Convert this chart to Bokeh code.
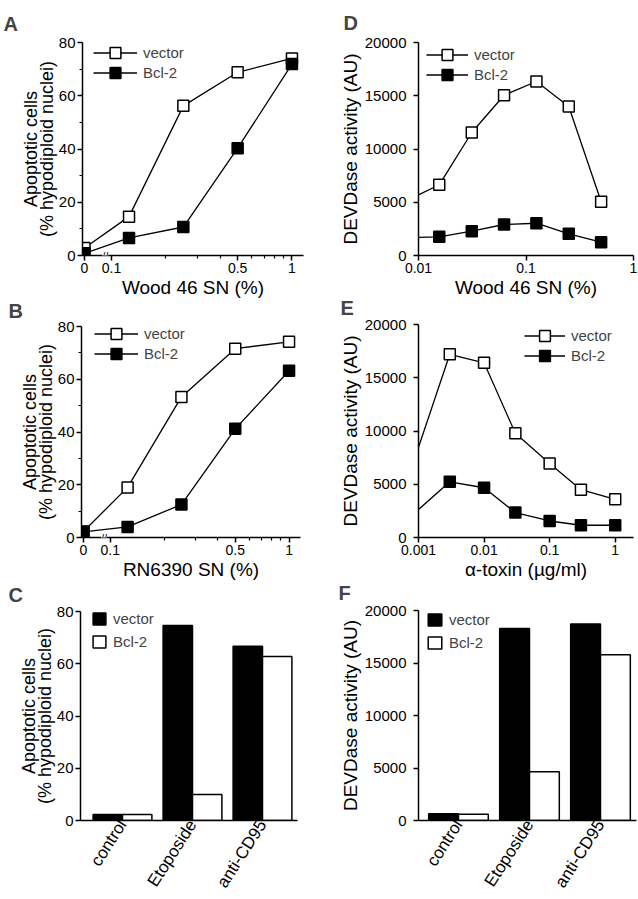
import numpy as np
from bokeh.plotting import figure
from bokeh.layouts import row, column
from bokeh.models import (Range1d, FixedTicker, Legend, LegendItem, Label,
                          CustomJSTickFormatter)
from bokeh.embed import file_html
from bokeh.resources import INLINE

FONT = "Liberation Sans"

# ---------------- data ----------------
# Panels A/B: concentration of supernatant (%)
conc_AB = [0, 0.125, 0.25, 0.5, 1]
A_vector = [2.8, 14.6, 56.2, 68.8, 74.0]
A_bcl2 = [0.8, 6.6, 10.7, 40.3, 71.9]
B_vector = [2.3, 19.0, 53.3, 71.6, 74.2]
B_bcl2 = [2.1, 4.0, 12.5, 41.2, 63.2]
AB_tick_values = [0, 0.1, 0.5, 1]
AB_tick_labels = ["0", "0.1", "0.5", "1"]
AB_minor_values = [0.2, 0.3, 0.4, 0.6, 0.7, 0.8, 0.9]

# Panels C/F: treatments
treatments = ["control", "Etoposide", "anti-CD95"]
C_vector = [2.3, 74.6, 66.7]
C_bcl2 = [2.3, 10.0, 62.8]
F_vector = [650, 18280, 18720]
F_bcl2 = [590, 4650, 15780]

# Panel D: Wood 46 SN (%)
D_conc = [0.0156, 0.0313, 0.0625, 0.125, 0.25, 0.5]
D_vector = [6640, 11550, 15050, 16340, 13990, 5040]
D_bcl2 = [1750, 2280, 2910, 3030, 2040, 1250]
D_edge_conc = 0.01          # where the curves meet the y axis
D_vector_edge = 5700
D_bcl2_edge = 1700

# Panel E: alpha-toxin (ug/ml)
E_conc = [0.003, 0.01, 0.03, 0.1, 0.3, 1]
E_vector = [17200, 16400, 9780, 6940, 4490, 3580]
E_bcl2 = [5230, 4670, 2340, 1550, 1150, 1150]
E_edge_conc = 0.001
E_vector_edge = 8470
E_bcl2_edge = 2620

# ---------------- helpers ----------------
LOG_LEFT, LOG_RIGHT = -1.161, 0.064   # broken log axis (log10 space)
ZERO_POS = -1.15                      # where "0" sits on the broken axis
BREAK_POS = -1.035


def to_pos(vals):
    v = np.asarray(vals, dtype=float)
    safe = np.where(v > 0, v, 1.0)
    return np.where(v > 0, np.log10(safe), ZERO_POS)


def base_fig(dims, margin, letter, offset, standoff, **kw):
    w, h, left, right, top, bottom = dims
    p = figure(width=w, height=h, min_border_left=left, min_border_right=right,
               min_border_top=top, min_border_bottom=bottom,
               toolbar_location=None, output_backend="svg", **kw)
    p.margin = margin
    p.outline_line_color = None
    p.grid.grid_line_color = None
    p.background_fill_color = "white"
    p.border_fill_alpha = 0
    p.title.text = letter
    p.title.text_font = FONT
    p.title.text_font_size = "20px"
    p.title.text_font_style = "bold"
    p.title.align = "left"
    p.title.offset = offset
    p.title.standoff = standoff
    for ax in list(p.xaxis) + list(p.yaxis):
        ax.axis_line_width = 1.5
        ax.axis_line_color = "black"
        ax.major_tick_line_width = 1.5
        ax.major_tick_out = 5
        ax.major_tick_in = 0
        ax.minor_tick_line_width = 1.2
        ax.minor_tick_out = 3
        ax.minor_tick_in = 0
        ax.major_label_text_font = FONT
        ax.axis_label_text_font = FONT
        ax.axis_label_text_font_style = "normal"
        ax.major_label_text_color = "black"
        ax.axis_label_text_color = "black"
    p.yaxis.major_label_text_font_size = "15px"
    p.xaxis.major_label_text_font_size = "14px"
    p.xaxis.major_label_standoff = 2
    p.xaxis.axis_label_standoff = 1
    p.xaxis.axis_label_text_font_size = "19px"
    p.yaxis.major_label_standoff = 2
    p.yaxis.axis_label_standoff = -1
    p.yaxis.axis_label_text_line_height = 0.78
    return p


def add_legend(p, item, loc, glyph_w, glyph_h):
    lg = Legend(items=[item], location=loc, glyph_width=glyph_w, glyph_height=glyph_h,
                spacing=0, padding=0, margin=0, label_standoff=6,
                label_text_font=FONT, label_text_font_size="15px",
                label_height=15, border_line_color=None,
                background_fill_alpha=0)
    p.add_layout(lg)


def line_legends(p, items, vx, frame_h, glyph_w):
    # one legend per entry so the rows can sit 20 px apart with big markers
    for item, dy in zip(items, (25.5, 45.5)):
        add_legend(p, item, (vx, frame_h - dy), glyph_w, 27)


def curve_pair(p, x_line_v, y_line_v, x_pts, y_v, x_line_b, y_line_b, y_b):
    lv = p.line(x_line_v, y_line_v, line_color="black", line_width=1.3)
    sv = p.scatter(x_pts, y_v, marker="square", size=11, fill_color="white",
                   line_color="black", line_width=1.5)
    lb = p.line(x_line_b, y_line_b, line_color="black", line_width=1.3)
    sb = p.scatter(x_pts, y_b, marker="square", size=11, fill_color="black",
                   line_color="black", line_width=1.5)
    return [LegendItem(label="vector", renderers=[lv, sv]),
            LegendItem(label="Bcl-2", renderers=[lb, sb])]


Y_LABEL_APOP = "Apoptotic cells\n(% hypodiploid nuclei)"
Y_LABEL_DEVD = "DEVDase activity (AU)"


def devd_y(p):
    p.yaxis.axis_label = Y_LABEL_DEVD
    p.yaxis.axis_label_text_font_size = "19px"
    p.yaxis.major_label_standoff = 7
    p.yaxis.axis_label_standoff = 1


def broken_axis_panel(letter, vec, bcl, xlabel, dims, margin, offset, standoff, frame_h, vx):
    p = base_fig(dims, margin, letter, offset, standoff,
                 x_range=Range1d(LOG_LEFT, LOG_RIGHT), y_range=Range1d(0, 80))
    xp = to_pos(conc_AB)
    items = curve_pair(p, xp, vec, xp, vec, xp, bcl, bcl)
    line_legends(p, items, vx, frame_h, 44)
    tick_pos = [float(t) for t in to_pos(AB_tick_values)]
    p.xaxis.ticker = FixedTicker(ticks=tick_pos,
                                 minor_ticks=[float(t) for t in to_pos(AB_minor_values)])
    p.xaxis.major_label_overrides = dict(zip(tick_pos, AB_tick_labels))
    p.yaxis.ticker = FixedTicker(ticks=[0, 20, 40, 60, 80], minor_ticks=[10, 30, 50, 70])
    p.xaxis.axis_label = xlabel
    p.yaxis.axis_label = Y_LABEL_APOP
    p.yaxis.axis_label_text_font_size = "18px"
    p.add_layout(Label(x=BREAK_POS, y=0, text="//", text_align="center",
                       text_baseline="middle", text_font=FONT,
                       text_font_size="11px", text_color="black",
                       background_fill_color="white"))
    return p


# ---------------- A ----------------
pA = broken_axis_panel("A", A_vector, A_bcl2, "Wood 46 SN (%)",
                       (318, 312, 82, 15, 41, 56), (-8, 0, 0, -8), -79, 15, 215, 11)

# ---------------- B ----------------
pB = broken_axis_panel("B", B_vector, B_bcl2, "RN6390 SN (%)",
                       (318, 305, 81, 18, 33, 56), (-22, 0, 0, -8), -73, 9, 216, 13)

# ---------------- D ----------------
pD = base_fig((320, 312, 100, 5, 42, 57), (-8, -8, 0, 0), "D", -75, 18,
              x_axis_type="log", x_range=Range1d(0.01, 1), y_range=Range1d(0, 20000))
itemsD = curve_pair(pD, [D_edge_conc] + D_conc, [D_vector_edge] + D_vector, D_conc, D_vector,
                    [D_edge_conc] + D_conc, [D_bcl2_edge] + D_bcl2, D_bcl2)
line_legends(pD, itemsD, 8, 213, 42)
pD.xaxis.ticker = FixedTicker(ticks=[0.01, 0.1, 1], minor_ticks=[])
pD.xaxis.formatter = CustomJSTickFormatter(code="return tick.toString();")
pD.yaxis.ticker = FixedTicker(ticks=[0, 5000, 10000, 15000, 20000], minor_ticks=[])
pD.xaxis.axis_label = "Wood 46 SN (%)"
devd_y(pD)

# ---------------- E ----------------
pE = base_fig((320, 307, 100, 5, 35, 58), (-24, -8, 0, 0), "E", -78, 12,
              x_axis_type="log", x_range=Range1d(0.001, 1.9), y_range=Range1d(0, 20000))
itemsE = curve_pair(pE, [E_edge_conc] + E_conc, [E_vector_edge] + E_vector, E_conc, E_vector,
                    [E_edge_conc] + E_conc, [E_bcl2_edge] + E_bcl2, E_bcl2)
line_legends(pE, itemsE, 106, 214, 41)
pE.xaxis.ticker = FixedTicker(ticks=[0.001, 0.01, 0.1, 1], minor_ticks=[])
pE.xaxis.formatter = CustomJSTickFormatter(code="return tick.toString();")
pE.yaxis.ticker = FixedTicker(ticks=[0, 5000, 10000, 15000, 20000], minor_ticks=[])
pE.xaxis.axis_label = "α-toxin (µg/ml)"
devd_y(pE)

# ---------------- bar panels ----------------
DODGE = 0.21
BAR_W = 0.42


def bar_panel(letter, vec, bcl, yticks, ymax, dims, margin, xr, offset, standoff,
              frame_h, vx, gw):
    p = base_fig(dims, margin, letter, offset, standoff,
                 x_range=Range1d(*xr), y_range=Range1d(0, ymax))
    xs = np.arange(1, len(treatments) + 1)
    rv = p.vbar(x=xs - DODGE, top=vec, width=BAR_W, fill_color="black",
                line_color="black", line_width=1.5)
    rb = p.vbar(x=xs + DODGE, top=bcl, width=BAR_W, fill_color="white",
                line_color="black", line_width=1.5)
    add_legend(p, LegendItem(label="vector", renderers=[rv]), (vx, frame_h - 21), gw, 15)
    add_legend(p, LegendItem(label="Bcl-2", renderers=[rb]), (vx, frame_h - 44), gw, 15)
    p.xaxis.ticker = FixedTicker(ticks=[float(x) for x in xs], minor_ticks=[])
    p.xaxis.major_label_overrides = {float(x): t for x, t in zip(xs, treatments)}
    p.xaxis.major_label_orientation = 1.0
    p.xaxis.major_tick_line_color = None
    p.xaxis.major_tick_out = 0
    p.xaxis.major_label_text_font_size = "17px"
    p.xaxis.major_label_standoff = 1
    p.yaxis.ticker = FixedTicker(ticks=yticks, minor_ticks=[])
    return p


pC = bar_panel("C", C_vector, C_bcl2, [0, 20, 40, 60, 80], 80,
               (318, 325, 80, 21, 36, 75), (-21, 0, -8, -8), (0.4, 3.5), -72, 11, 214, 11, 16)
pC.yaxis.axis_label = Y_LABEL_APOP
pC.yaxis.axis_label_text_font_size = "18px"

pF = bar_panel("F", F_vector, F_bcl2, [0, 5000, 10000, 15000, 20000], 20000,
               (320, 326, 100, 2, 36, 77), (-22, -8, -8, 0), (0.437, 3.507), -80, 13, 213, 8, 17)
devd_y(pF)

layout = column(row(pA, pD), row(pB, pE), row(pC, pF), margin=(8, -8, -8, 8))

with open("out.html", "w") as f:
    f.write(file_html(layout, INLINE))
